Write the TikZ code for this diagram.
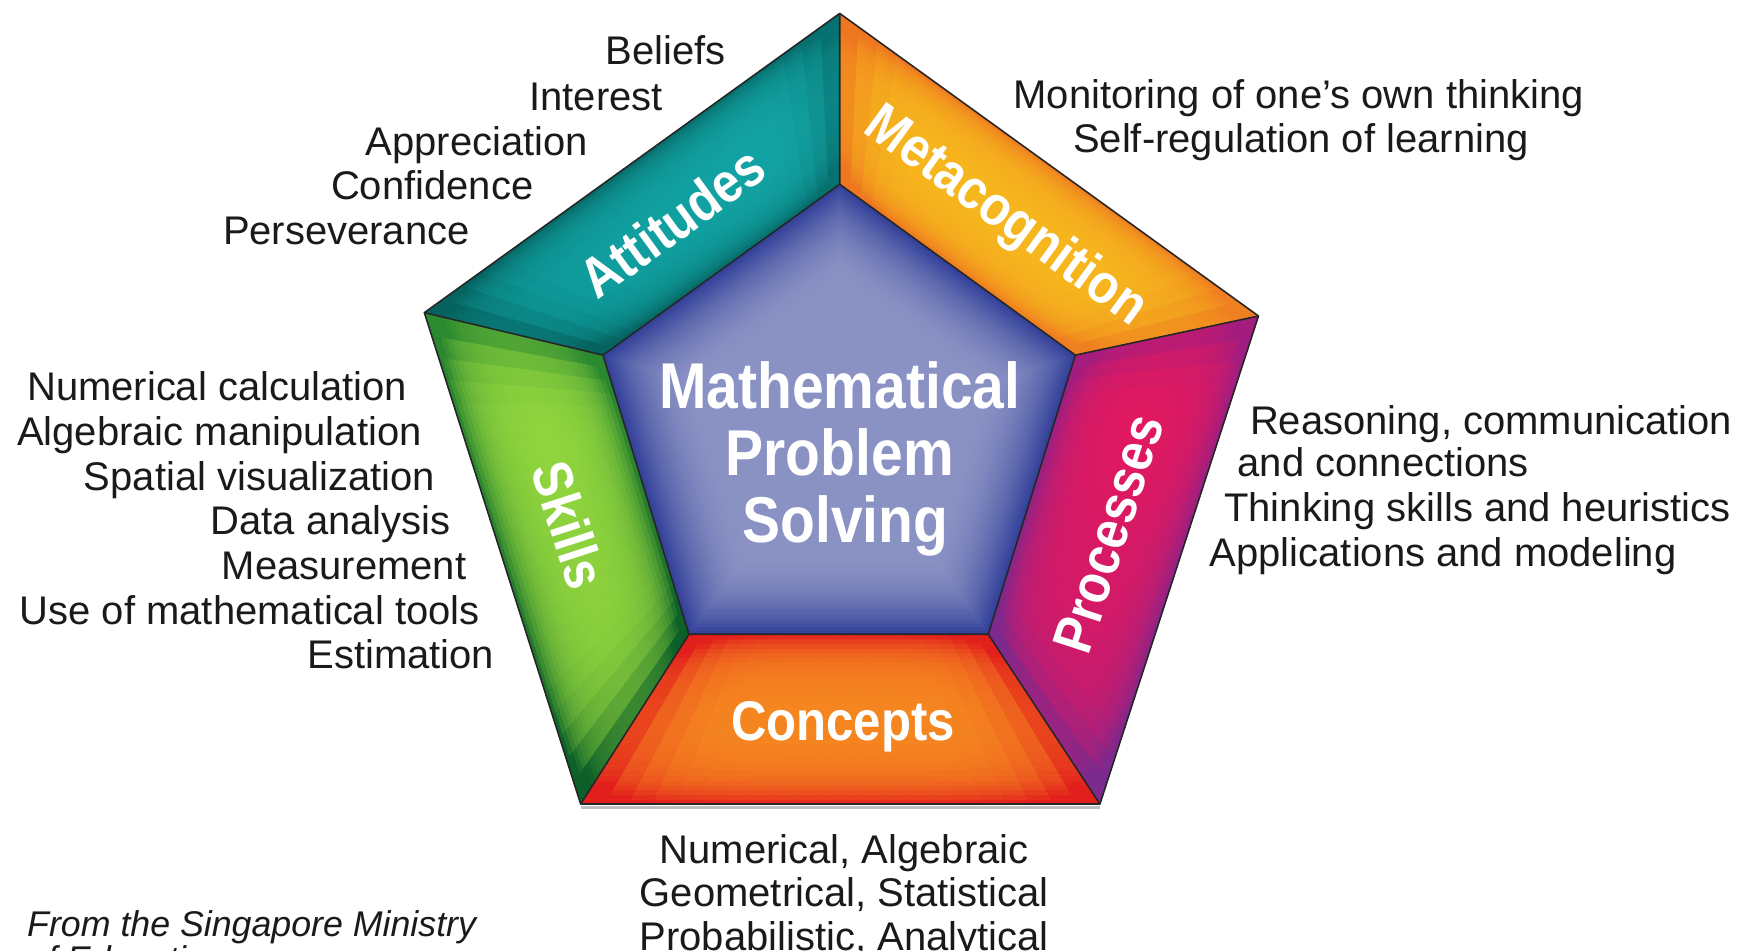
\documentclass[tikz,border=0pt]{standalone}
\usepackage{fontspec}
\setmainfont{Liberation Sans}
\usepackage{graphicx}
\usetikzlibrary{calc}

\definecolor{attMidA}{HTML}{0E9A9B}
\definecolor{attMidB}{HTML}{14A6A7}
\definecolor{attEdgeA}{HTML}{05625F}
\definecolor{attEdgeB}{HTML}{06716F}
\definecolor{metMid}{HTML}{F6B61D}
\definecolor{metEdgeA}{HTML}{EE761F}
\definecolor{metEdgeB}{HTML}{EF8020}
\definecolor{proMidA}{HTML}{E8185C}
\definecolor{proMidB}{HTML}{CC1A6C}
\definecolor{proEdgeA}{HTML}{A41C7E}
\definecolor{proEdgeB}{HTML}{7A2A8E}
\definecolor{conMid}{HTML}{F5861F}
\definecolor{conEdge}{HTML}{E21F1C}
\definecolor{skiMidA}{HTML}{88CE3C}
\definecolor{skiMidB}{HTML}{94D83E}
\definecolor{skiEdgeA}{HTML}{0B5E28}
\definecolor{skiEdgeB}{HTML}{2C8A30}
\definecolor{cenMid}{HTML}{8A92C4}
\definecolor{cenEdge}{HTML}{34429A}
\definecolor{txtgray}{HTML}{1A1A1A}

\newcommand\bandgrid[8]{%
 \foreach \bgj in {0,...,21}{%
   \pgfmathsetmacro\bgua{\bgj/22}%
   \pgfmathsetmacro\bgub{(\bgj+1)/22}%
   \pgfmathsetmacro\bguc{2*(\bgj+0.5)/22-1}%
   \pgfmathsetmacro\bguq{\bguc*\bguc}%
   \pgfmathsetmacro\bgus{0.85*\bguq*\bguq*\bguq}%
   \pgfmathsetmacro\bgum{50*(1-\bguc)}%
   \colorlet{bgM}{#5!\bgum!#6}%
   \colorlet{bgE}{#7!\bgum!#8}%
   \coordinate (bgoa) at ($(#1)!\bgua!(#2)$);
   \coordinate (bgob) at ($(#1)!\bgub!(#2)$);
   \coordinate (bgia) at ($(#3)!\bgua!(#4)$);
   \coordinate (bgib) at ($(#3)!\bgub!(#4)$);
  \foreach \bgi in {0,...,35}{%
   \pgfmathsetmacro\bgta{\bgi/36}%
   \pgfmathsetmacro\bgtb{(\bgi+1)/36}%
   \pgfmathsetmacro\bgtc{2*(\bgi+0.5)/36-1}%
   \pgfmathsetmacro\bgtq{\bgtc*\bgtc}%
   \pgfmathsetmacro\bgw{min(100,100*(0.35*\bgtq+0.65*\bgtq*\bgtq*\bgtq+\bgus))}%
   \colorlet{bgC}{bgE!\bgw!bgM}%
   \fill[bgC, draw=bgC, line width=0.3pt] ($(bgoa)!\bgta!(bgia)$) -- ($(bgob)!\bgta!(bgib)$) -- ($(bgob)!\bgtb!(bgib)$) -- ($(bgoa)!\bgtb!(bgia)$) -- cycle;
  }}}

\tikzset{
 outl/.style={draw=black!85, line width=0.7pt, line join=round},
 listtxt/.style={inner sep=0pt, text=txtgray, font=\fontsize{17.9}{20}\selectfont},
 bandlbl/.style={inner sep=0pt, text=white, font=\bfseries\fontsize{25}{28}\selectfont},
 centerlbl/.style={inner sep=0pt, text=white, font=\bfseries\fontsize{29}{30}\selectfont},
 foot/.style={inner sep=0pt, text=txtgray, font=\itshape\fontsize{16}{18}\selectfont},
}

\begin{document}
\begin{tikzpicture}[x=0.5pt,y=-0.5pt]
\useasboundingbox[fill=white] (0,0) rectangle (1560,851.6);

% outer vertices
\coordinate (A) at (752,12);
\coordinate (B) at (1127,283);
\coordinate (C) at (985,720);
\coordinate (D) at (520,720);
\coordinate (E) at (380,280);
% inner vertices
\coordinate (a) at (752,165);
\coordinate (b) at (963,318);
\coordinate (c) at (885,568);
\coordinate (d) at (617,568);
\coordinate (e) at (540,318);
\coordinate (O) at (752,385);

% shadow under bottom edge
\draw[black!25, line width=1.6pt] ($(D)+(0,3)$) -- ($(C)+(0,3)$);

% bands
\bandgrid{E}{A}{e}{a}{attMidA}{attMidB}{attEdgeA}{attEdgeB}
\bandgrid{A}{B}{a}{b}{metMid}{metMid}{metEdgeA}{metEdgeB}
\bandgrid{B}{C}{b}{c}{proMidA}{proMidB}{proEdgeA}{proEdgeB}
\bandgrid{C}{D}{c}{d}{conMid}{conMid}{conEdge}{conEdge}
\bandgrid{D}{E}{d}{e}{skiMidA}{skiMidB}{skiEdgeA}{skiEdgeB}

% centre pentagon
\foreach \k in {0,...,59}{%
 \pgfmathsetmacro\cs{1-\k/60}%
 \pgfmathsetmacro\cv{max(0,min(1,(\cs-0.6)/0.4))}%
 \pgfmathsetmacro\cw{100*\cv*\cv}%
 \colorlet{pcC}{cenEdge!\cw!cenMid}%
 \fill[pcC] ($(O)!\cs!(a)$) -- ($(O)!\cs!(b)$) -- ($(O)!\cs!(c)$) -- ($(O)!\cs!(d)$) -- ($(O)!\cs!(e)$) -- cycle;
}

% outlines
\draw[outl] (A) -- (B) -- (C) -- (D) -- (E) -- cycle;
\draw[outl] (a) -- (b) -- (c) -- (d) -- (e) -- cycle;
\draw[outl] (A) -- (a) (B) -- (b) (C) -- (c) (D) -- (d) (E) -- (e);

% band labels
\node[bandlbl, rotate=36] (lAtt) at (602,199) {\scalebox{0.88}[1]{Attitudes}};
\node[bandlbl, rotate=-36] (lMet) at (900,195) {\scalebox{0.88}[1]{Metacognition}};
\node[bandlbl, rotate=72] (lPro) at (993,478) {\scalebox{0.88}[1]{Processes}};
\node[bandlbl, rotate=-72] (lSki) at (510,470) {\scalebox{0.88}[1]{Skills}};
\node[bandlbl, anchor=base] (lCon) at (755,663) {\scalebox{0.88}[1]{Concepts}};

% centre label
\node[centerlbl, anchor=base] (m1) at (752,366) {\scalebox{0.88}[1]{Mathematical}};
\node[centerlbl, anchor=base] (m2) at (752,426) {\scalebox{0.88}[1]{Problem}};
\node[centerlbl, anchor=base] (m3) at (757,486) {\scalebox{0.88}[1]{Solving}};

% attitudes list
\node[listtxt, anchor=base east] (t1) at (650,58) {Beliefs};
\node[listtxt, anchor=base east] (t2) at (594,99) {Interest};
\node[listtxt, anchor=base east] (t3) at (527,139) {Appreciation};
\node[listtxt, anchor=base east] (t4) at (478,179) {Confidence};
\node[listtxt, anchor=base east] (t5) at (421,219) {Perseverance};

% metacognition list
\node[listtxt, anchor=base] (u1) at (1163,97) {Monitoring of one’s own thinking};
\node[listtxt, anchor=base] (u2) at (1165,137) {Self-regulation of learning};

% skills list
\node[listtxt, anchor=base east] (s1) at (365,359) {Numerical calculation};
\node[listtxt, anchor=base east] (s2) at (378,399) {Algebraic manipulation};
\node[listtxt, anchor=base east] (s3) at (390,439) {Spatial visualization};
\node[listtxt, anchor=base east] (s4) at (404,479) {Data analysis};
\node[listtxt, anchor=base east] (s5) at (418,519) {Measurement};
\node[listtxt, anchor=base east] (s6) at (430,559) {Use of mathematical tools};
\node[listtxt, anchor=base east] (s7) at (443,599) {Estimation};

% processes list
\node[listtxt, anchor=base west] (p1) at (1119,389) {Reasoning, communication};
\node[listtxt, anchor=base west] (p2) at (1108,427) {and connections};
\node[listtxt, anchor=base west] (p3) at (1096,467) {Thinking skills and heuristics};
\node[listtxt, anchor=base west] (p4) at (1083,507) {Applications and modeling};

% concepts list
\node[listtxt, anchor=base] (c1) at (756,773) {Numerical, Algebraic};
\node[listtxt, anchor=base] (c2) at (756,812) {Geometrical, Statistical};
\node[listtxt, anchor=base] (c3) at (756,851) {Probabilistic, Analytical};

% footer
\node[foot, anchor=base west] (f1) at (24,839) {From the Singapore Ministry};
\node[foot, anchor=base west] (f2) at (24,870) {of Education};
\end{tikzpicture}
\end{document}
